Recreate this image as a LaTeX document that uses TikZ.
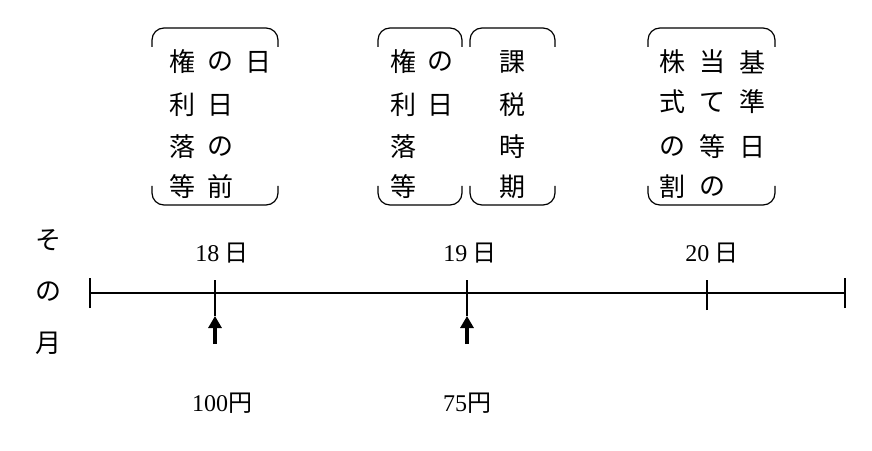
\documentclass[tikz,border=0pt]{standalone}
\usepackage{fontspec}
\setmainfont{Noto Sans CJK JP}
\newfontfamily\digits{Liberation Serif}
\usetikzlibrary{arrows.meta}
\tikzset{
  ch/.style={font=\fontsize{26}{26}\selectfont, inner sep=0pt},
  lab/.style={font=\fontsize{24}{24}\selectfont, inner sep=0pt},
  brk/.style={line width=1.2pt, rounded corners=12pt},
  up/.style={-{Triangle[length=12pt,width=13pt]}, line width=4pt}
}
\newcommand{\brkbox}[3]{% left, right, name
  \draw[brk] (#1,403) -- (#1,422) -- (#2,422) -- (#2,403);
  \draw[brk] (#1,264) -- (#1,245) -- (#2,245) -- (#2,264);
}
\begin{document}
\begin{tikzpicture}[x=1pt,y=1pt]
  \useasboundingbox (0,0) rectangle (872,450);
  % brackets
  \brkbox{152}{278}{a}
  \brkbox{378}{462}{b}
  \brkbox{470}{555}{c}
  \brkbox{648}{775}{d}
  % first box
  \node[ch] (a11) at (182,388) {権}; \node[ch] (a12) at (220,388) {の}; \node[ch] (a13) at (258,388) {日};
  \node[ch] (a21) at (182,345) {利}; \node[ch] (a22) at (220,345) {日};
  \node[ch] (a31) at (182,303) {落}; \node[ch] (a32) at (220,303) {の};
  \node[ch] (a41) at (182,263) {等}; \node[ch] (a42) at (220,263) {前};
  % second box
  \node[ch] (b11) at (403,388) {権}; \node[ch] (b12) at (440,388) {の};
  \node[ch] (b21) at (403,345) {利}; \node[ch] (b22) at (440,345) {日};
  \node[ch] (b31) at (403,303) {落};
  \node[ch] (b41) at (403,263) {等};
  % third box
  \node[ch] (c1) at (512,388) {課};
  \node[ch] (c2) at (512,345) {税};
  \node[ch] (c3) at (512,303) {時};
  \node[ch] (c4) at (512,263) {期};
  % fourth box
  \node[ch] (d11) at (672,388) {株}; \node[ch] (d12) at (712,388) {当}; \node[ch] (d13) at (752,388) {基};
  \node[ch] (d21) at (672,348) {式}; \node[ch] (d22) at (712,348) {て}; \node[ch] (d23) at (752,348) {準};
  \node[ch] (d31) at (672,303) {の}; \node[ch] (d32) at (712,303) {等}; \node[ch] (d33) at (752,303) {日};
  \node[ch] (d41) at (672,263) {割}; \node[ch] (d42) at (712,263) {の};
  % month label
  \node[ch] (m1) at (48,210) {そ};
  \node[ch] (m2) at (48,158) {の};
  \node[ch] (m3) at (48,107) {月};
  % axis
  \coordinate (s) at (90,157);
  \coordinate (e) at (845,157);
  \draw[line width=1.2pt] (s) -- (e);
  \draw[line width=1.2pt] (90,142) -- (90,172) (845,142) -- (845,172);
  \draw[line width=1.2pt] (215,134) -- (215,170) (467,134) -- (467,170) (707,140) -- (707,170);
  \node[lab] (d18) at (222,197) {{\digits 18} 日};
  \node[lab] (d19) at (470,197) {{\digits 19} 日};
  \node[lab] (d20) at (712,197) {{\digits 20} 日};
  % dividends
  \coordinate (p18) at (215,106);
  \coordinate (q18) at (215,134);
  \coordinate (p19) at (467,106);
  \coordinate (q19) at (467,134);
  \draw[up] (p18) -- (q18);
  \draw[up] (p19) -- (q19);
  \node[lab] (y100) at (222,47) {{\digits 100}円};
  \node[lab] (y75) at (467,47) {{\digits 75}円};
\end{tikzpicture}
\end{document}
